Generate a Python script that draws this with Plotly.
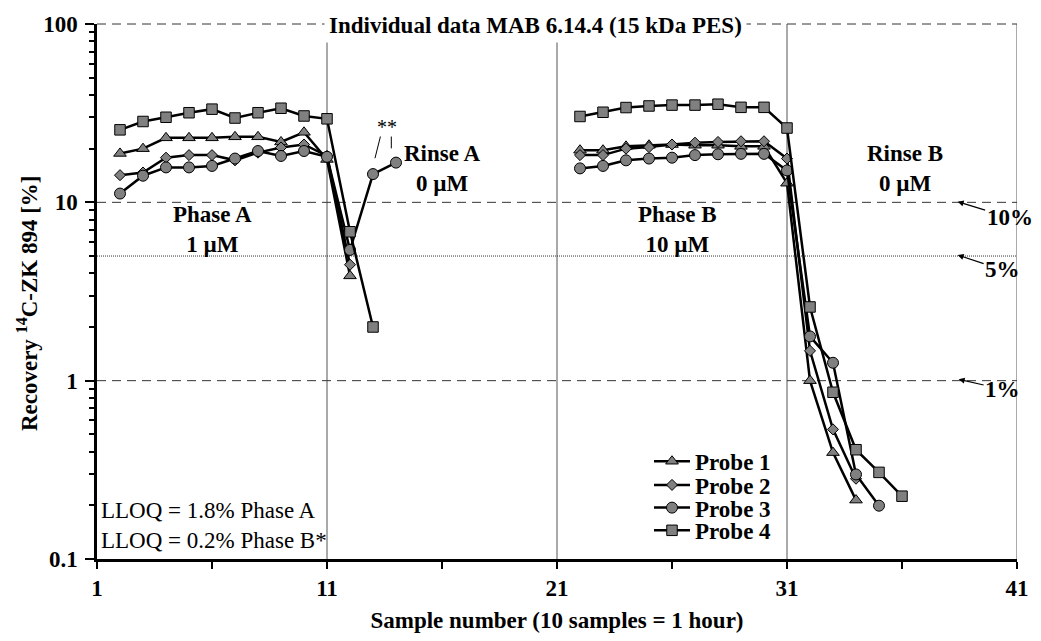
import plotly.graph_objects as go

# ---------------- data ----------------
samples_A = list(range(2, 15))    # Phase A + Rinse A sample numbers
samples_B = list(range(22, 37))   # Phase B + Rinse B sample numbers
probe_names = ["Probe 1", "Probe 2", "Probe 3", "Probe 4"]

probe1_A = [18.8, 20.0, 23.0, 23.0, 23.0, 23.3, 23.3, 21.8, 24.7, 17.4, 3.87]
probe2_A = [14.2, 14.7, 17.8, 18.4, 18.4, 17.2, 19.0, 20.3, 21.1, 18.2, 4.47]
probe3_A = [11.2, 14.1, 15.7, 15.7, 16.0, 17.6, 19.4, 18.2, 19.4, 18.0, 5.41, 14.4, 16.7]
probe4_A = [25.5, 28.4, 30.0, 31.8, 33.3, 29.7, 31.8, 33.7, 30.5, 29.4, 6.84, 2.0]

probe1_B = [19.6, 19.6, 20.6, 20.9, 21.1, 20.9, 20.9, 20.6, 20.6, 12.8, 1.0, 0.395, 0.214]
probe2_B = [18.4, 18.4, 20.0, 20.4, 21.1, 21.6, 21.8, 22.0, 22.0, 17.6, 1.47, 0.533, 0.282]
probe3_B = [15.5, 16.0, 17.2, 17.6, 17.8, 18.4, 18.6, 18.7, 18.7, 15.1, 1.77, 1.26, 0.298, 0.199]
probe4_B = [30.3, 32.0, 34.0, 34.7, 35.1, 35.1, 35.5, 34.1, 34.1, 26.1, 2.59, 0.861, 0.41, 0.306, 0.225]

phase_A = [probe1_A, probe2_A, probe3_A, probe4_A]
phase_B = [probe1_B, probe2_B, probe3_B, probe4_B]

x_tick_vals = [1, 11, 21, 31, 41]
x_minor_vals = [6, 16, 26, 36]
y_tick_vals = [0.1, 1, 10, 100]
y_tick_text = ["0.1", "1", "10", "100"]
y_minor_vals = [d * m for m in (0.1, 1, 10) for d in range(2, 10)]
phase_bounds = [11, 21, 31, 41]
ref_dashed = [10, 1]
ref_dotted = [5]

# ---------------- style ----------------
FONT = "Liberation Serif, Times New Roman, serif"
W, H = 1041, 641
L, R, T, B = 97, 14, 18, 81
PW, PH = W - L - R, H - T - B


def px(xp):
    return (xp - L) / PW


def py(yp):
    return (H - B - yp) / PH


symbols = ["triangle-up", "diamond", "circle", "square"]
sizes = [11, 8.5, 11, 10.5]
legend_ids = ["legend", "legend2", "legend3", "legend4"]
legend_rows = [461, 485, 508, 531]

fig = go.Figure()
for i in range(4):
    a, b = phase_A[i], phase_B[i]
    xs = samples_A[:len(a)] + [None] + samples_B[:len(b)]
    ys = a + [None] + b
    fig.add_trace(go.Scatter(
        x=xs, y=ys, mode="lines+markers", name=probe_names[i],
        connectgaps=False, legend=legend_ids[i], showlegend=True,
        line=dict(color="black", width=2.5),
        marker=dict(symbol=symbols[i], size=sizes[i], color="#808080",
                    line=dict(color="black", width=1)),
    ))

shapes = []
for xv in phase_bounds:
    shapes.append(dict(type="line", xref="x", yref="paper", x0=xv, x1=xv, y0=0, y1=1,
                       line=dict(color="#555555", width=1), layer="below"))
for yv in ref_dashed:
    shapes.append(dict(type="line", xref="paper", yref="y", x0=0, x1=1, y0=yv, y1=yv,
                       line=dict(color="#333333", width=1, dash="9px,6px"), layer="below"))
shapes.append(dict(type="line", xref="paper", yref="paper", x0=0, x1=1, y0=1, y1=1,
                   line=dict(color="#333333", width=1, dash="9px,6px"), layer="below"))
for yv in ref_dotted:
    shapes.append(dict(type="line", xref="paper", yref="y", x0=0, x1=1, y0=yv, y1=yv,
                       line=dict(color="#333333", width=1, dash="1px,1px"), layer="below"))
# leader lines of the "**" note
shapes.append(dict(type="line", xref="paper", yref="paper", x0=px(383.5), x1=px(378), y0=py(132), y1=py(154),
                   line=dict(color="black", width=1)))
shapes.append(dict(type="line", xref="paper", yref="paper", x0=px(394.5), x1=px(394.5), y0=py(132), y1=py(144),
                   line=dict(color="black", width=1)))

bold23 = dict(family=FONT, size=23, color="black", weight="bold")
reg23 = dict(family=FONT, size=23, color="black")


def note(text, xc, yc, font=bold23, **kw):
    d = dict(text=text, xref="paper", yref="paper", x=px(xc), y=py(yc),
             xanchor="center", yanchor="middle", showarrow=False, font=font)
    d.update(kw)
    return d


annotations = [
    note("Individual data MAB 6.14.4 (15 kDa PES)", 540, 20, bgcolor="white", borderpad=4),
    note("Phase A<br>1 µM", 214, 226),
    note("Rinse A<br>0 µM", 446, 164),
    note("Phase B<br>10 µM", 684, 226),
    note("Rinse B<br>0 µM", 914, 164),
    note("**", 390, 122, font=dict(family=FONT, size=20, color="black")),
    dict(text="LLOQ = 1.8% Phase A<br>LLOQ = 0.2% Phase B*", xref="paper", yref="paper",
         x=px(99), y=py(526), xanchor="left", yanchor="middle", align="left",
         showarrow=False, font=reg23),
    note("Recovery <sup>14</sup>C-ZK 894 [%]", 27, 301, textangle=-90),
]
for label, head, ax, ay in [("10%", (967, 198), 52, 16), ("5%", (967, 252), 45, 15), ("1%", (968, 378), 44, 10)]:
    annotations.append(dict(text=label, xref="paper", yref="paper", x=px(head[0]), y=py(head[1]),
                            ax=ax, ay=ay, showarrow=True, arrowhead=2, arrowsize=1, arrowwidth=1.2,
                            arrowcolor="black", standoff=0, font=bold23))

layout = dict(
    width=W, height=H, margin=dict(l=L, r=R, t=T, b=B),
    paper_bgcolor="white", plot_bgcolor="white", showlegend=True,
    font=dict(family=FONT, color="black"),
    shapes=shapes, annotations=annotations,
    xaxis=dict(range=[1, 41], tickvals=x_tick_vals, ticks="outside", ticklen=7, tickwidth=2,
               tickcolor="black", showline=True, linecolor="black", linewidth=2.5,
               showgrid=False, zeroline=False, tickfont=bold23,
               minor=dict(tickvals=x_minor_vals, ticks="outside", ticklen=7, tickwidth=2,
                          tickcolor="black", showgrid=False),
               title=dict(text="Sample number (10 samples = 1 hour)", font=bold23, standoff=12)),
    yaxis=dict(type="log", range=[-1, 2], tickvals=y_tick_vals, ticktext=y_tick_text,
               ticks="outside", ticklen=9, tickwidth=2, tickcolor="black",
               showline=True, linecolor="black", linewidth=2.5, showgrid=False, zeroline=False,
               tickfont=bold23, ticklabelstandoff=3,
               minor=dict(tickvals=y_minor_vals, ticks="outside", ticklen=5, tickwidth=2,
                          tickcolor="black", showgrid=False)),
)
for i, lid in enumerate(legend_ids):
    layout[lid] = dict(x=px(655), y=py(legend_rows[i]), xanchor="left", yanchor="middle",
                       font=bold23, bgcolor="rgba(0,0,0,0)", borderwidth=0, itemwidth=36,
                       visible=True)
fig.update_layout(**layout)

fig.write_html("out.html")
